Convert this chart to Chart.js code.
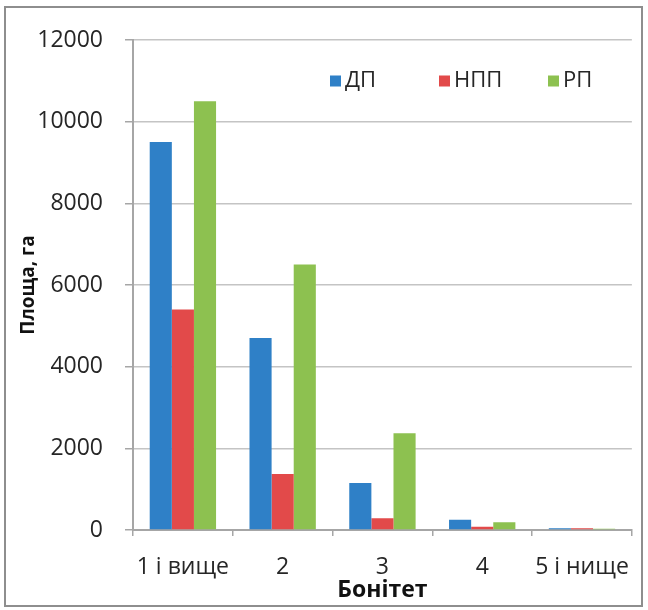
<!DOCTYPE html>
<html>
<head>
<meta charset="utf-8">
<script src="https://cdn.jsdelivr.net/npm/chart.js@4.4.0/dist/chart.umd.min.js"></script>
<style>
  body{ margin:0; background:#fff; }
  #wrap{ position:relative; width:648px; height:610px; }
  #frame{ position:absolute; left:4px; top:6px; width:635px; height:597px; border:2px solid #8e8e8e; pointer-events:none; }
</style>
</head>
<body>
<div id="wrap">
  <canvas id="chart" width="648" height="610"></canvas>
  <div id="frame"></div>
</div>
<script>
// bonitet classes and areas (ha)
const categories = ['1 і вище', '2', '3', '4', '5 і нище'];
const seriesNames = ['ДП', 'НПП', 'РП'];
const dpValues  = [9500, 4700, 1150, 250, 40];
const nppValues = [5400, 1370, 290, 80, 40];
const rpValues  = [10500, 6500, 2370, 190, 30];
const yTicks = [0, 2000, 4000, 6000, 8000, 10000, 12000];
const colors = ['#2f80c7', '#e24a4a', '#8dc150'];

const font = "'Open Sans', 'Noto Sans', sans-serif";

// legend inside the plot area, top right (like Excel does it)
const insideLegend = {
  id: 'insideLegend',
  afterDraw(chart){
    const c = chart.ctx, ca = chart.chartArea;
    const step = 109, box = 11;
    let x = ca.left + 197;
    const y = ca.top + 41;
    c.save();
    c.font = '22px ' + font;
    c.textBaseline = 'middle';
    c.textAlign = 'left';
    chart.data.datasets.forEach(ds => {
      c.fillStyle = ds.backgroundColor;
      c.fillRect(x, y - box/2, box, box);
      c.fillStyle = '#262626';
      c.fillText(ds.label, x + box + 4, y);
      x += step;
    });
    c.restore();
  }
};

const ctx = document.getElementById('chart').getContext('2d');
new Chart(ctx, {
  type: 'bar',
  data: {
    labels: categories,
    datasets: [
      { label: seriesNames[0], data: dpValues, backgroundColor: colors[0] },
      { label: seriesNames[1], data: nppValues, backgroundColor: colors[1] },
      { label: seriesNames[2], data: rpValues, backgroundColor: colors[2] }
    ]
  },
  options: {
    responsive: false,
    animation: false,
    datasets: { bar: { barPercentage: 1, categoryPercentage: 0.665 } },
    layout: { padding: { left: 0, right: 12, top: 40, bottom: 0 } },
    plugins: {
      tooltip: { enabled: false },
      legend: { display: false }
    },
    scales: {
      x: {
        grid: { offset: true, drawOnChartArea: false, tickLength: 6, color: '#a6a6a6', lineWidth: 1.5 },
        border: { color: '#a6a6a6', width: 2 },
        ticks: { color: '#262626', padding: 18, font: { family: font, size: 23 }, maxRotation: 0 },
        title: { display: true, text: 'Бонітет', color: '#111', padding: { bottom: 6, top: 0 },
                 font: { family: font, size: 23, weight: 'bold' } },
        afterFit(scale){ scale.height = 80; }
      },
      y: {
        min: 0, max: 12000,
        afterBuildTicks(scale){ scale.ticks = yTicks.map(v => ({ value: v })); },
        grid: { color: '#c4c4c4', lineWidth: 1.5, tickLength: 8, tickColor: '#a6a6a6' },
        border: { color: '#a6a6a6', width: 2 },
        ticks: { color: '#262626', padding: 22, font: { family: font, size: 23 },
                 callback: v => String(v) },
        title: { display: true, text: 'Площа, га', color: '#111', padding: { top: 17, bottom: 0 },
                 font: { family: font, size: 19, weight: 'bold' } },
        afterFit(scale){ scale.width = 133; }
      }
    }
  },
  plugins: [insideLegend]
});
</script>
</body>
</html>
